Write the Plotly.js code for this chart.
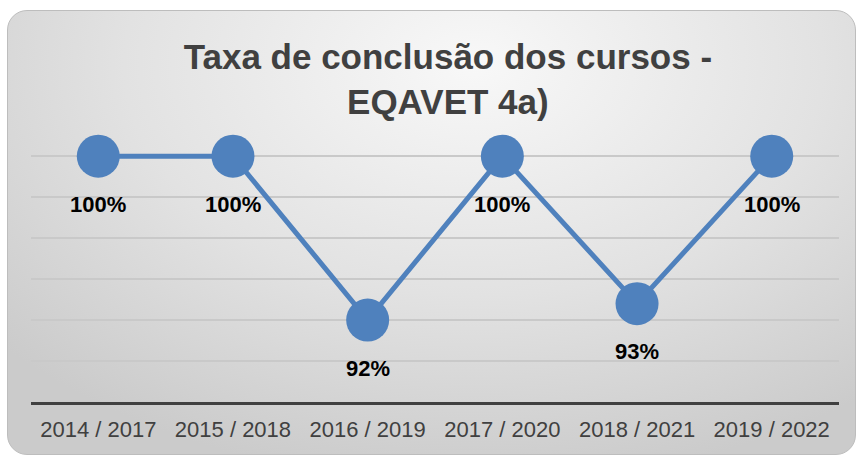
<!DOCTYPE html>
<html>
<head>
<meta charset="utf-8">
<script src="https://cdn.plot.ly/plotly-3.0.1.min.js"></script>
<style>
  html, body { margin: 0; padding: 0; background: #ffffff; }
  #wrap { position: relative; width: 858px; height: 457px; overflow: hidden; }
  #bg {
    position: absolute; left: 7px; top: 10px; width: 847px; height: 443px;
    border-radius: 20px;
    border: 1px solid #bdbdbd;
    background: radial-gradient(ellipse 75% 95% at 55% 12%, #f8f8f8 0%, #e2e2e2 55%, #cbcbcb 100%);
  }
  #chart { position: absolute; left: 0; top: 0; width: 858px; height: 457px; }
</style>
</head>
<body>
<div id="wrap">
  <div id="bg"></div>
  <div id="chart"></div>
</div>
<script>
const categories = ["2014 / 2017", "2015 / 2018", "2016 / 2019", "2017 / 2020", "2018 / 2021", "2019 / 2022"];
const rates = [100, 100, 92, 100, 92.8, 100];
const rateLabels = ["100%", "100%", "92%", "100%", "93%", "100%"];
const chartTitle = "Taxa de conclusão dos cursos -<br>EQAVET 4a)";

const FONT = "Liberation Sans, Arial, sans-serif";

const trace = {
  type: "scatter",
  mode: "lines+markers",
  x: categories,
  y: rates,
  line: { color: "#4F81BD", width: 5 },
  marker: { color: "#4F81BD", size: 43 },
  cliponaxis: false,
  hoverinfo: "skip"
};

const annotations = categories.map((c, i) => ({
  x: c, y: rates[i], text: rateLabels[i],
  xref: "x", yref: "y",
  showarrow: false, yshift: -48, yanchor: "middle",
  font: { family: FONT, size: 22, color: "#000000", weight: "bold" }
}));

const layout = {
  width: 858, height: 457,
  margin: { l: 31, r: 19, t: 150, b: 55 },
  paper_bgcolor: "rgba(0,0,0,0)",
  plot_bgcolor: "rgba(0,0,0,0)",
  showlegend: false,
  title: {
    text: chartTitle,
    x: 0.522, xref: "container", xanchor: "center",
    y: 0.85, yref: "container", yanchor: "top",
    font: { family: FONT, size: 35, color: "#404040", weight: "bold" }
  },
  xaxis: {
    type: "category",
    showgrid: false,
    showline: true, linecolor: "#404040", linewidth: 3,
    ticks: "",
    ticklabelstandoff: 6,
    tickfont: { family: FONT, size: 22, color: "#404040" },
    zeroline: false
  },
  yaxis: {
    range: [88, 100.3],
    tick0: 88,
    dtick: 2,
    showticklabels: false,
    showgrid: true, gridcolor: "#c9c9c9", gridwidth: 1.5,
    zeroline: false, showline: false, ticks: ""
  },
  annotations: annotations
};

Plotly.newPlot("chart", [trace], layout, { displayModeBar: false, staticPlot: true });
</script>
</body>
</html>
